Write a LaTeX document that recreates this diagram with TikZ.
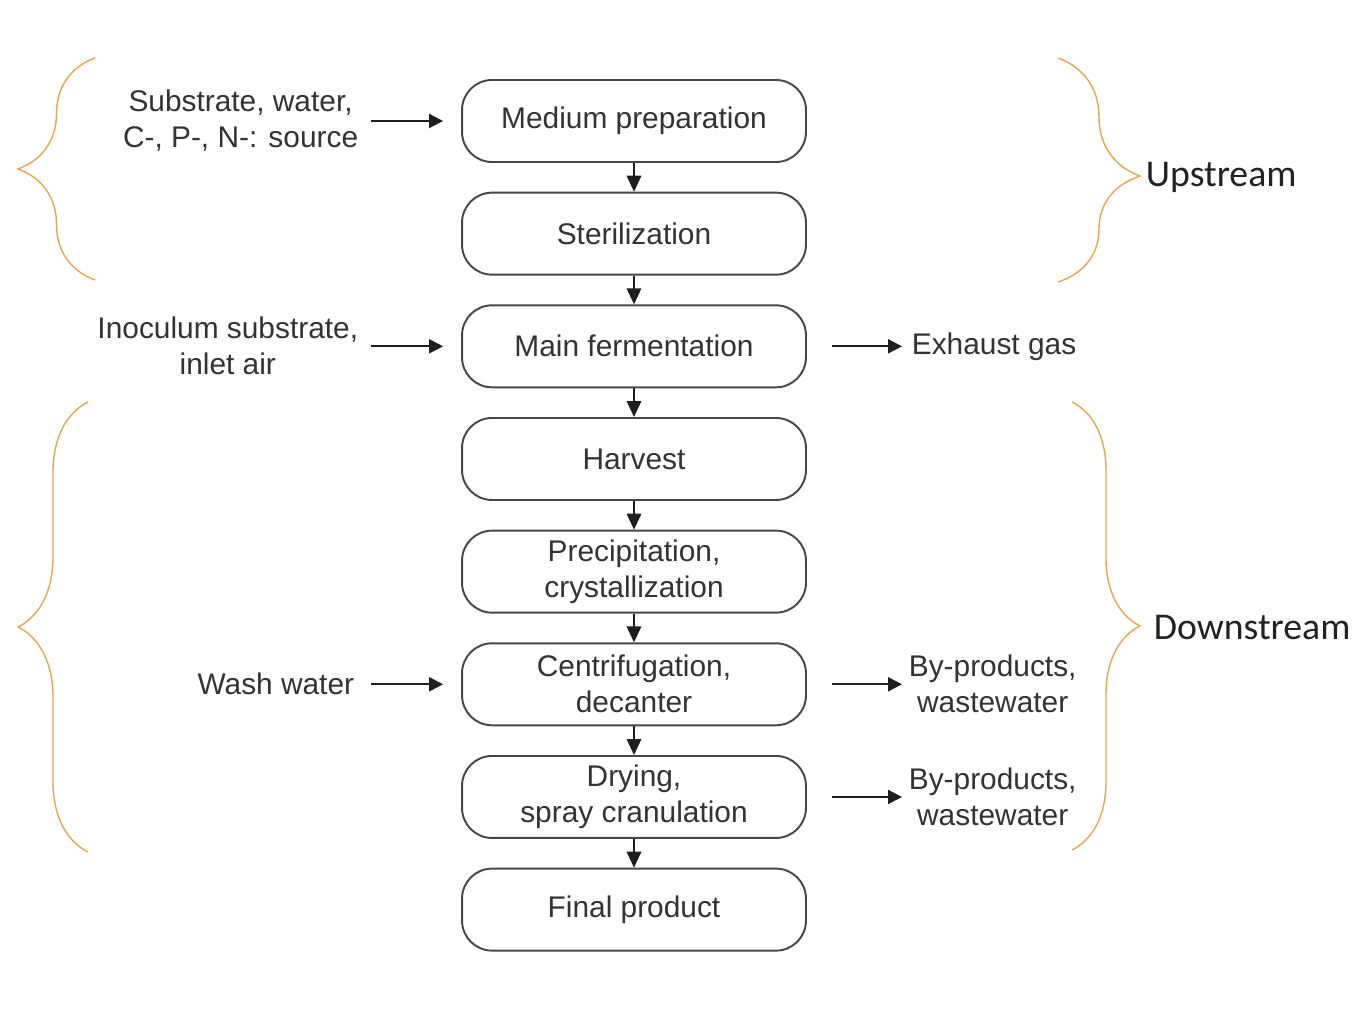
\documentclass[tikz,border=0pt]{standalone}
\usepackage{fontspec}
\setmainfont{Liberation Sans}
\newfontfamily\stagefont{Carlito}
\usepackage{tikz}
\usetikzlibrary{arrows.meta,positioning,decorations.pathreplacing}
\definecolor{cText}{HTML}{333333}
\definecolor{cLine}{HTML}{474747}
\definecolor{cArrow}{HTML}{1E1E1E}
\definecolor{cBrace}{HTML}{E4A65A}
\definecolor{cStage}{HTML}{222222}
\tikzset{
  procblk/.style={draw=cLine, line width=1.1pt, rounded corners=0.6cm, fill=white,
                  minimum width=6.88cm, minimum height=1.64cm, align=center,
                  text=cText, font=\fontsize{17}{20.5}\selectfont},
  sidelbl/.style={align=center, inner sep=2pt, text=cText,
                  font=\fontsize{17}{20.5}\selectfont},
  arr/.style={-{Triangle[length=2.8mm, width=2.8mm]}, line width=1.1pt, cArrow},
  flowarr/.style={-{Triangle[length=3.2mm, width=2.9mm]}, line width=1pt, cArrow},
  stagebrace/.style={decorate, decoration={brace, amplitude=#1}, cBrace, line width=0.8pt},
  stagelbl/.style={anchor=west, inner sep=2pt, text=cStage,
                   font=\stagefont\fontsize{21.5}{26}\selectfont}
}

\begin{document}
\begin{tikzpicture}[x=0.02cm, y=-0.02cm]
\fill[white] (0,0) rectangle (1356,1026);
\useasboundingbox (0,0) rectangle (1356,1026);
% process chain
\node[procblk] (medium) at (634,121) {Medium preparation};
\node[procblk, below=0.575cm of medium] (steril) {Sterilization};
\node[procblk, below=0.575cm of steril] (mainferm) {Main fermentation};
\node[procblk, below=0.575cm of mainferm] (harvest) {Harvest};
\node[procblk, below=0.575cm of harvest] (precip) {Precipitation,\\crystallization};
\node[procblk, below=0.575cm of precip] (centri) {Centrifugation,\\decanter};
\node[procblk, below=0.575cm of centri] (drying) {Drying,\\spray cranulation};
\node[procblk, below=0.575cm of drying] (final) {Final product};
\draw[flowarr] (medium) -- (steril);
\draw[flowarr] (steril) -- (mainferm);
\draw[flowarr] (mainferm) -- (harvest);
\draw[flowarr] (harvest) -- (precip);
\draw[flowarr] (precip) -- (centri);
\draw[flowarr] (centri) -- (drying);
\draw[flowarr] (drying) -- (final);
% inputs
\node[sidelbl, anchor=east] (subst) at (362,0 |- medium) {Substrate, water,\\C-, P-, N-: source};
\node[sidelbl, anchor=east] (inoc) at (362,0 |- mainferm) {Inoculum substrate,\\inlet air};
\node[sidelbl, anchor=east] (wash) at (358,0 |- centri) {Wash water};
\draw[arr, shorten <=0.18cm, shorten >=0.36cm] (subst.east) -- (medium.west);
\draw[arr, shorten <=0.18cm, shorten >=0.36cm] (inoc.east) -- (mainferm.west);
\draw[arr, shorten <=0.26cm, shorten >=0.36cm] (wash.east) -- (centri.west);
% outputs
\node[sidelbl, anchor=west] (exhaust) at (908,0 |- mainferm) {Exhaust gas};
\node[sidelbl, anchor=west] (byprodA) at (905,0 |- centri) {By-products,\\wastewater};
\node[sidelbl, anchor=west] (byprodB) at (905,0 |- drying) {By-products,\\wastewater};
\draw[arr, shorten <=0.5cm, shorten >=0.12cm] (mainferm.east) -- (exhaust.west);
\draw[arr, shorten <=0.5cm, shorten >=0.06cm] (centri.east) -- (byprodA.west);
\draw[arr, shorten <=0.5cm, shorten >=0.06cm] (drying.east) -- (byprodB.west);
% stage braces
\draw[stagebrace=1.54cm] (95,280) -- (95,58);
\draw[stagebrace=1.4cm] (88,852) -- (88,402);
\draw[stagebrace=1.64cm, decoration={aspect=0.527}] (1058,58) -- (1058,282);
\draw[stagebrace=1.36cm] (1072,402) -- (1072,850);
\node[stagelbl] (upstream) at (1142,177) {Upstream};
\node[stagelbl] (downstream) at (1150,628) {Downstream};
\end{tikzpicture}
\end{document}
